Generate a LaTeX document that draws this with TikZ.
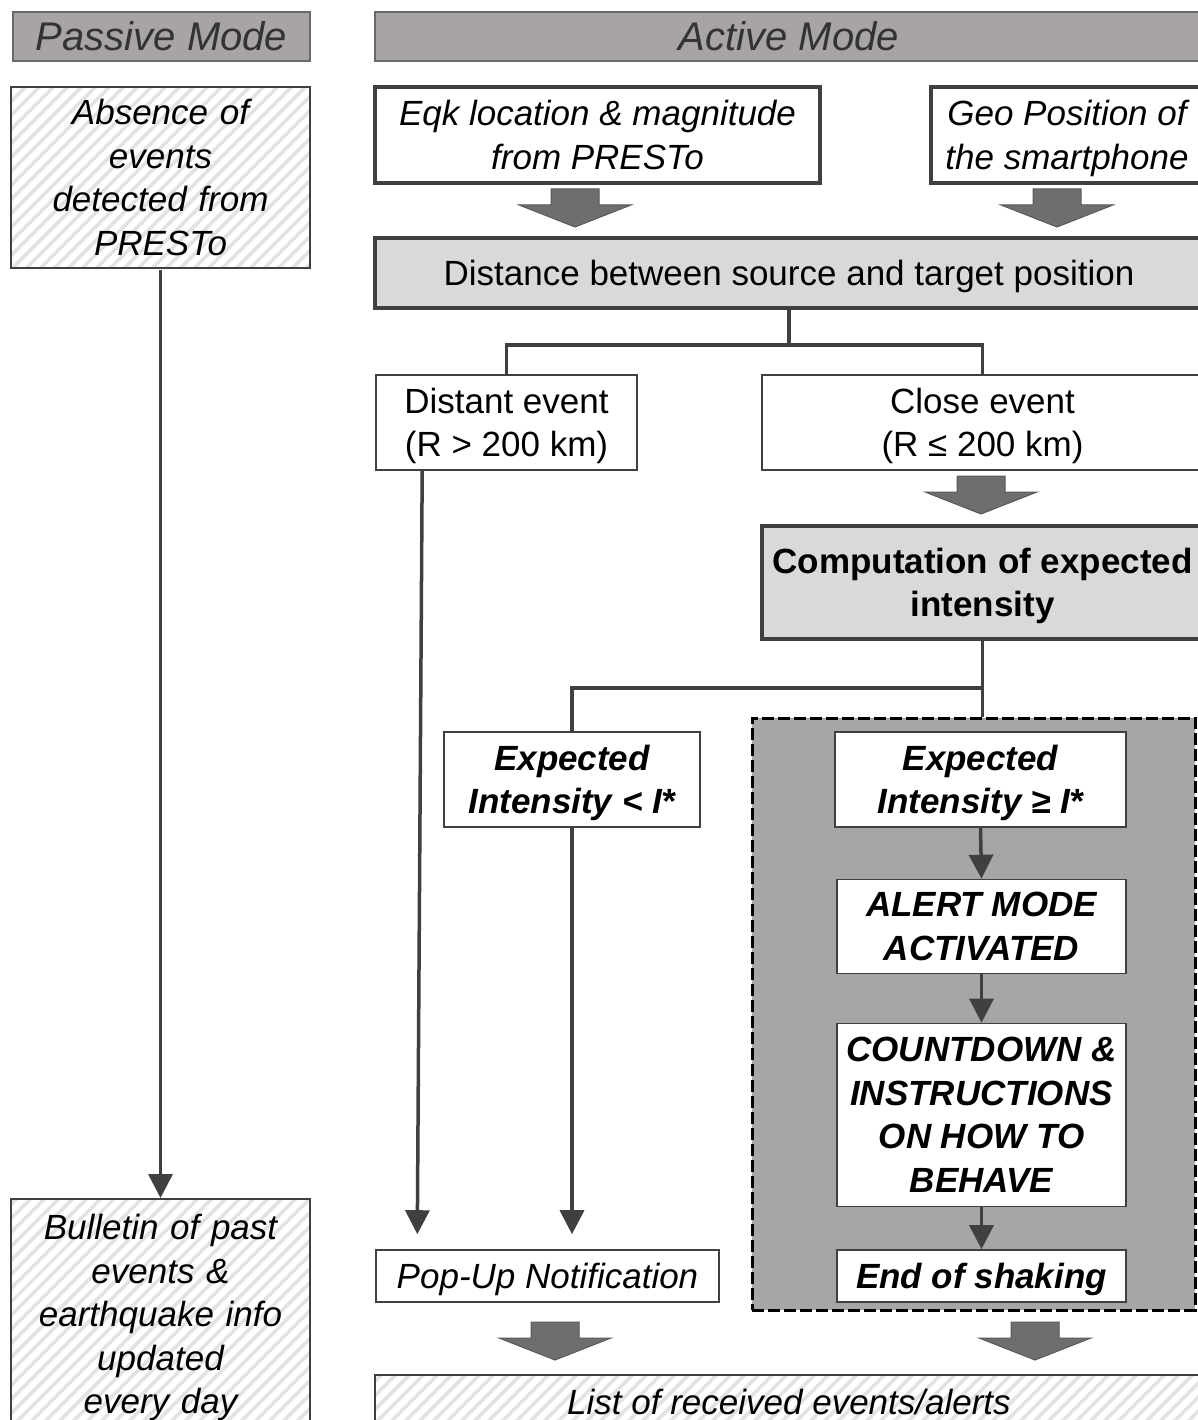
\documentclass[tikz,border=0pt]{standalone}
\usepackage{fontspec}
\setmainfont{Liberation Sans}
\usetikzlibrary{arrows.meta,patterns.meta,calc}
\definecolor{hdrfill}{RGB}{168,164,164}
\definecolor{hdrline}{RGB}{105,105,105}
\definecolor{dk}{RGB}{64,64,64}
\definecolor{lgray}{RGB}{217,217,217}
\definecolor{midgray}{RGB}{166,166,166}
\definecolor{barrow}{RGB}{110,110,110}
\definecolor{hatchc}{RGB}{226,226,226}
\newcommand\nodep[1]{\raisebox{0pt}[\height][0pt]{#1}}
\begin{document}
\begin{tikzpicture}[x=1pt,y=-1pt,
 every node/.style={font=\fontsize{35}{43.5}\selectfont, align=center, inner sep=0pt},
 hdr/.style={draw=hdrline, fill=hdrfill, line width=2pt, font=\fontsize{40}{48}\selectfont\itshape, text=black!80},
 thickbox/.style={draw=dk, fill=white, line width=4pt},
 thinbox/.style={draw=dk, fill=white, line width=1.6pt},
 graybox/.style={draw=dk, fill=lgray, line width=4pt},
 hatched/.style={draw=dk, line width=1.6pt, pattern={Lines[angle=45,distance=10.5pt,line width=4pt]}, pattern color=hatchc},
 dashbox/.style={draw=black, fill=midgray, line width=3pt, dash pattern=on 12pt off 4pt},
 it/.style={font=\fontsize{35}{43.5}\selectfont\itshape},
 bf/.style={font=\fontsize{35}{43.5}\selectfont\bfseries},
 bfit/.style={font=\fontsize{35}{43.5}\selectfont\bfseries\itshape},
 conn/.style={draw=dk, line width=3.5pt},
 arr/.style={conn, -{Triangle[length=24pt,width=24pt]}},
 blockarr/.pic={\draw[fill=barrow, draw=black!65, line width=1pt] (-24,0) -- (24,0) -- (24,16) -- (56,16) -- (0,38) -- (-56,16) -- (-24,16) -- cycle;}
]
\clip (0,0) rectangle (1198,1420);
\fill[white] (0,0) rectangle (1198,1420);

% headers
\node[hdr, minimum width=297, minimum height=49] (passive) at (161.5,36.5) {Passive Mode};
\node[hdr, minimum width=828, minimum height=49] (active) at (789,36.5) {Active Mode};

% passive column
\node[hatched, it, minimum width=299, minimum height=181, text width=290] (absence) at (160.5,177.5) {Absence of\\events\\detected from\\PRESTo};
\node[hatched, it, anchor=north, minimum width=299, minimum height=231, text width=290] (bulletin) at (160.5,1198) {Bulletin of past\\events \&\\earthquake info\\updated\\\nodep{every day}};

% active column top
\node[thickbox, it, minimum width=445, minimum height=96] (eqk) at (597.5,135) {Eqk location \& magnitude\\from PRESTo};
\node[thickbox, it, minimum width=272, minimum height=96] (geo) at (1067,135) {Geo Position of\\\nodep{the smartphone}};
\node[graybox, minimum width=828, minimum height=70] (dist) at (789,273) {\nodep{Distance between source and target position}};

\node[thinbox, minimum width=261, minimum height=95] (distant) at (506.5,422.5) {Distant event\\\nodep{(R > 200 km)}};
\node[thinbox, minimum width=441, minimum height=95] (close) at (982.5,422.5) {Close event\\\nodep{(R ≤ 200 km)}};
\node[graybox, bf, minimum width=441, minimum height=113] (comp) at (982.5,582.5) {Computation of expected\\\nodep{intensity}};

\node[thinbox, bfit, minimum width=256, minimum height=95] (exp1) at (572,779.5) {Expected\\\nodep{Intensity < \textit{I}*}};

% alert zone
\node[dashbox, minimum width=443, minimum height=592] (zone) at (973.5,1014) {};
\node[thinbox, bfit, minimum width=291, minimum height=95] (exp2) at (980.5,779.5) {Expected\\\nodep{Intensity ≥ \textit{I}*}};
\node[thinbox, bfit, minimum width=289, minimum height=94] (alert) at (981.5,926.5) {ALERT MODE\\ACTIVATED};
\node[thinbox, bfit, minimum width=289, minimum height=183] (count) at (981.5,1115) {COUNTDOWN \&\\INSTRUCTIONS\\ON HOW TO\\BEHAVE};
\node[thinbox, bfit, minimum width=289, minimum height=52] (endsh) at (981.5,1276) {\nodep{End of shaking}};

\node[thinbox, it, minimum width=343, minimum height=52] (popup) at (547.5,1276) {\nodep{Pop-Up Notification}};
\node[hatched, it, minimum width=828, minimum height=54] (list) at (789,1402) {List of received events/alerts};

% connectors
\draw[arr] (absence.south) -- (bulletin.north);
\draw[conn] (dist.south) -- ++(0,35) -| (distant.north);
\draw[conn] (dist.south) -- ++(0,35) -| (close.north);
\draw[conn] (comp.south) -- ++(0,47) -| (exp1.north);
\draw[conn] (comp.south) -- (comp.south |- zone.north);
\draw[arr, shorten >=15pt] ($(distant.south west)+(47,0)$) -- ($(popup.north west)+(42,0)$);
\draw[arr, shorten >=15pt] (exp1.south) -- (exp1.south |- popup.north);
\draw[arr] (exp2.south) -- (alert.north);
\draw[arr] (alert.south) -- (count.north);
\draw[arr] (count.south) -- (endsh.north);

% block arrows
\pic at (575,189) {blockarr};
\pic at (1057,189) {blockarr};
\pic at (981,476) {blockarr};
\pic at (555,1322) {blockarr};
\pic at (1035,1322) {blockarr};
\end{tikzpicture}
\end{document}
